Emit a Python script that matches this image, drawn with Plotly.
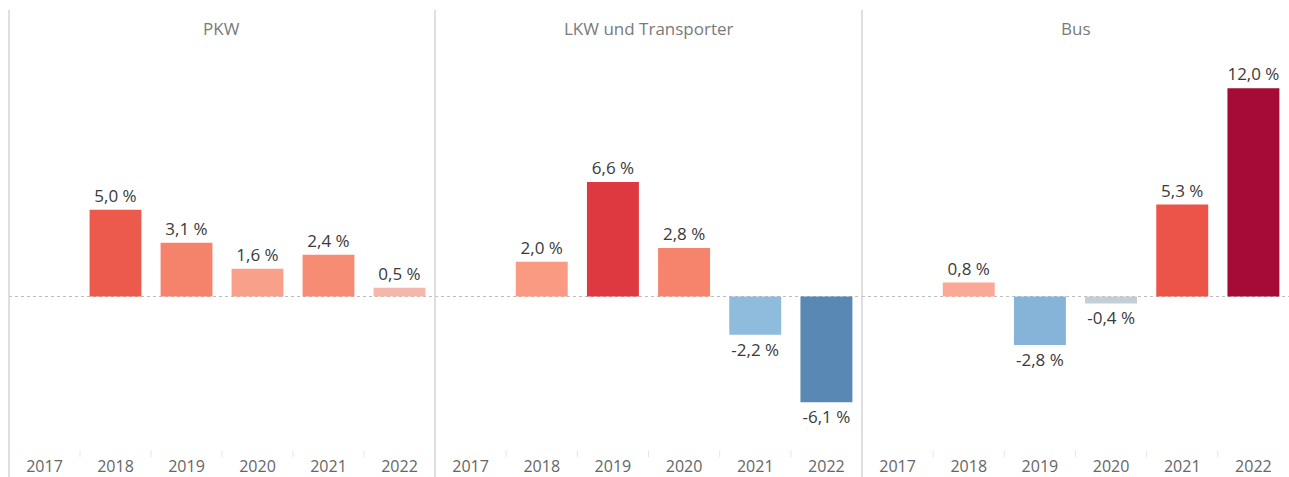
import plotly.graph_objects as go

years = ["2017", "2018", "2019", "2020", "2021", "2022"]
panels = ["PKW", "LKW und Transporter", "Bus"]
pkw = [None, 5.0, 3.1, 1.6, 2.4, 0.5]
lkw = [None, 2.0, 6.6, 2.8, -2.2, -6.1]
bus = [None, 0.8, -2.8, -0.4, 5.3, 12.0]
series = [pkw, lkw, bus]

colors = [
    ["#ffffff", "#EC5A4B", "#F5826A", "#F9A08A", "#F78C74", "#F3B7AB"],
    ["#ffffff", "#FA9A82", "#DE3841", "#F6836B", "#8FBBDD", "#5988B4"],
    ["#ffffff", "#FBA896", "#86B3D8", "#C4CED7", "#EC5448", "#A50B35"],
]

W, H = 1289, 477
mt, mb = 0, 22
plot_h = H - mt - mb
zero_px = 296.5 - mt
ppu = 17.35
ymax = zero_px / ppu
ymin = -(plot_h - zero_px) / ppu

bounds = [9, 435, 862, 1289]
FONT = "Open Sans, Noto Sans, sans-serif"

def fmt(v):
    return "" if v is None else f"{v:.1f}".replace(".", ",") + " %"

fig = go.Figure()
shapes = []
annotations = []
for i, (name, vals) in enumerate(zip(panels, series)):
    xa = "x" if i == 0 else f"x{i+1}"
    ya = "y" if i == 0 else f"y{i+1}"
    fig.add_trace(go.Bar(
        x=years, y=vals, xaxis=xa, yaxis=ya,
        marker=dict(color=colors[i], line=dict(width=0)),
        width=0.73,
        text=[fmt(v) for v in vals], textposition="outside",
        textfont=dict(family=FONT, size=17, color="#3a3a3a"),
        cliponaxis=False, showlegend=False, hoverinfo="skip",
    ))
    d0 = bounds[i] / W
    d1 = bounds[i + 1] / W
    suffix = "" if i == 0 else str(i + 1)
    fig.layout["xaxis" + suffix] = dict(
        domain=[d0, d1], type="category", categoryorder="array", categoryarray=years,
        showgrid=False, zeroline=False, showline=False,
        ticks="", tickfont=dict(family=FONT, size=16, color="#666666"),
        fixedrange=True, anchor=ya,
    )
    fig.layout["yaxis" + suffix] = dict(
        range=[ymin, ymax], visible=False, showgrid=False, zeroline=False,
        anchor=xa, domain=[0, 1],
    )
    shapes.append(dict(type="line", xref=f"{xa} domain", yref=ya, x0=0, x1=1, y0=0, y1=0,
                       line=dict(color="#bdbdbd", width=1.2, dash="dot"), layer="below"))
    annotations.append(dict(text=name, xref=f"{xa} domain", yref="paper", x=0.5, y=1 - 28 / plot_h,
                            showarrow=False, xanchor="center", yanchor="middle",
                            font=dict(family=FONT, size=17, color="#7a7a7a")))
    for k in range(1, 6):
        shapes.append(dict(type="line", xref=xa, yref="paper", x0=k - 0.5, x1=k - 0.5,
                           y0=-0.005, y1=0.01, line=dict(color="#e6e6e6", width=1)))

for b in bounds[:3]:
    shapes.append(dict(type="line", xref="paper", yref="paper", x0=b / W, x1=b / W,
                       y0=-mb / plot_h, y1=1 - 10 / plot_h, line=dict(color="#d4d4d4", width=1.5)))

fig.update_layout(
    width=W, height=H,
    margin=dict(l=0, r=0, t=mt, b=mb),
    paper_bgcolor="white", plot_bgcolor="white",
    bargap=0.27, shapes=shapes, annotations=annotations,
    font=dict(family=FONT),
)
fig.write_html("out.html", config={"displayModeBar": False},
               post_script="document.body.style.margin='0';document.body.style.overflow='hidden';")
